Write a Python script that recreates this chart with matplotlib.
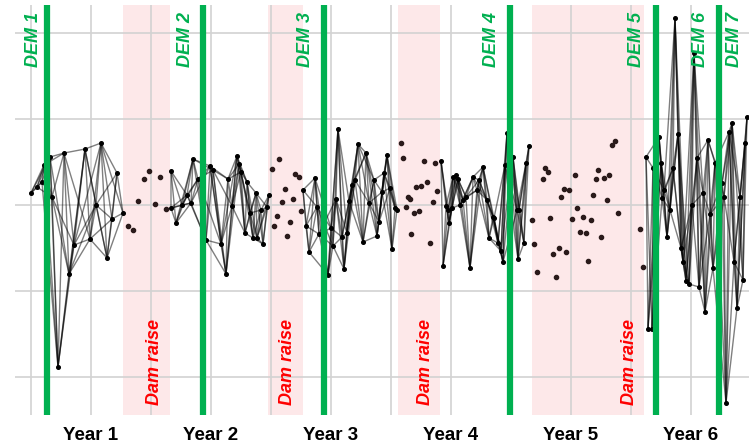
import numpy as np
import matplotlib
matplotlib.use("Agg")
import matplotlib.pyplot as plt

plt.rcParams["font.family"] = ["Liberation Sans", "DejaVu Sans"]

# x = months since start, y = relative elevation change (arbitrary units)
seg1_x = [0.0, 0.6, 1.1, 1.3, 1.9, 2.1, 2.7, 3.3, 3.8, 4.3, 5.4, 5.9, 6.5, 7.0, 7.6, 8.1, 8.6, 9.2]
seg1_y = [12, 18, 23, 40, 48, 8, -162, 52, -69, -40, 56, -34, 0, 62, -53, -14, 32, -8]

seg2_x = [14.0, 14.0, 14.5, 15.1, 15.6, 16.0, 16.2, 16.7, 17.5, 17.9, 18.2, 19.0, 19.5, 19.7,
          20.1, 20.6, 20.8, 21.0, 21.4, 21.6, 21.9, 22.2, 22.5, 22.6, 23.0, 23.2, 23.6, 23.8]
seg2_y = [34, -3, -18, 0, 10, 2, 46, 26, -35, 39, 35, -39, -69, 26,
          -1, 49, 41, 33, -28, 23, -8, -33, 12, -33, -5, -39, -2, 10]

seg3_x = [27.2, 27.5, 27.8, 28.4, 28.6, 28.8, 29.7, 30.0, 30.2, 30.5, 30.7, 31.1, 31.3, 31.6,
          31.8, 32.1, 32.4, 32.7, 33.2, 33.5, 33.8, 34.3, 34.6, 34.8, 35.1, 35.3, 35.6, 35.9,
          36.1, 36.4, 36.6]
seg3_y = [15, -21, -47, 27, -2, -29, -70, -23, -41, 6, 76, -32, -64, -28,
          4, 20, 25, 61, -37, 52, 2, 25, -31, -17, 13, 32, 50, 17,
          -44, -3, -5]

seg4_x = [41.0, 41.2, 41.5, 41.7, 41.8, 42.1, 42.2, 42.5, 42.7, 42.9, 43.2, 43.5, 43.9, 44.2,
          44.6, 44.8, 45.2, 45.6, 45.8, 46.2, 46.3, 46.7, 47.0, 47.2, 47.4, 47.6, 48.2, 48.6,
          48.7, 48.8, 49.3, 49.5, 49.8]
seg4_y = [44, -61, -1, -5, -18, -3, 28, 30, 26, 0, 5, 8, -63, 28,
          15, 25, 38, 5, -33, -12, -13, -38, -46, -57, 40, 72, 48, -5,
          -54, -5, -38, 42, 59]

seg5_x = [61.5, 61.7, 62.1, 62.2, 62.8, 63.0, 63.1, 63.3, 63.6, 63.9, 64.2, 64.4, 64.7, 65.0,
          65.2, 65.5, 65.8, 66.1, 66.3, 66.6, 66.8, 67.2, 67.4, 67.7, 67.9, 68.2, 68.4, 69.1,
          69.3, 69.5, 69.8, 70.1, 70.3, 70.6, 70.9, 71.2, 71.4, 71.6]
seg5_y = [48, -124, -124, 37, 68, 42, 7, 15, -32, -5, 37, 187, 71, -43,
          -57, -76, -79, 0, 152, 47, -82, 12, -107, 65, -9, -63, 42, 22,
          8, -198, 73, 82, -57, -103, 8, -75, 62, 88]

# scattered points surveyed during dam raises
raise_x = [9.7, 10.2, 10.7, 11.3, 11.8, 12.4, 12.9, 13.5,
           24.1, 24.8, 25.4, 25.1, 26.2, 26.4, 26.8, 27.0, 24.6, 24.3, 25.9, 25.6,
           37.0, 37.2, 39.3, 40.4, 38.5, 39.0, 39.6, 37.7, 37.9, 37.5, 40.2, 40.6, 38.3, 38.8, 38.0, 39.9,
           51.4, 51.7, 51.2, 53.3, 53.8, 53.0, 54.4, 56.7, 56.5, 57.3, 57.8, 58.4, 58.1, 56.2, 57.6,
           54.6, 50.1, 51.9, 54.1, 55.2, 56.0, 58.7, 54.9, 55.5, 57.0, 50.3, 52.8, 52.2, 53.5, 55.7,
           50.6, 52.5, 60.9, 61.2]
raise_y = [-21, -25, 4, 26, 34, 1, 28, -4,
           36, 46, 16, 3, 6, 31, 28, -6, -11, -21, -17, -31,
           62, 47, 44, 42, 18, 19, 23, 8, 6, -2, 3, 14, -8, -6, -29, -38,
           37, 33, 26, 16, 15, 8, 30, 35, 26, 27, 30, 64, 60, 10, 5,
           -3, -15, -13, -14, -12, -15, -8, -27, -28, -32, -39, -43, -49, -47, -56,
           -67, -72, -24, -62]

dem_dates = [1.6, 17.2, 29.3, 47.9, 62.5, 68.8]
dem_names = ["DEM 1", "DEM 2", "DEM 3", "DEM 4", "DEM 5", "DEM 6", "DEM 7"]
dem_label_x = [0.25, 15.5, 27.5, 46.1, 60.6, 67.0, 70.4]
raise_start = [9.2, 23.7, 36.7, 50.1]
raise_end = [13.9, 27.2, 40.9, 61.3]
raise_label_x = [12.4, 25.7, 39.5, 59.9]
year_labels = ["Year 1", "Year 2", "Year 3", "Year 4", "Year 5", "Year 6"]

fig = plt.figure(figsize=(7.49, 4.48), dpi=100)
ax = fig.add_axes([0.02, 0.0737, 0.98, 0.915])

for a, b in zip(raise_start, raise_end):
    ax.axvspan(a, b, color="#fde8e9", lw=0, zorder=0)

for v in range(0, 73, 6):
    ax.axvline(v, color="#d2d2d2", lw=1.2, zorder=1)
for h in [-172, -86, 0, 86, 172]:
    ax.axhline(h, color="#d2d2d2", lw=1.2, zorder=1)

segments = [(seg1_x, seg1_y), (seg2_x, seg2_y), (seg3_x, seg3_y), (seg4_x, seg4_y), (seg5_x, seg5_y)]
for xs, ys in segments:
    xs = np.array(xs)
    ys = np.array(ys)
    for step in (1, 2, 3, 4):
        for s in range(step):
            ax.plot(xs[s::step], ys[s::step], color="black", lw=1.0, alpha=0.5, zorder=2)
    ax.plot(xs, ys, "o", ms=2.6, color="black", zorder=3)

ax.plot(raise_x, raise_y, "o", ms=3.0, color="#2a1a1a", zorder=3)

for d in dem_dates:
    ax.axvline(d, color="#00b050", lw=4.5, zorder=4)
for name, lx in zip(dem_names, dem_label_x):
    ax.text(lx, 193, name, rotation=90, ha="center", va="top", color="#00b050",
            fontsize=13, fontweight="bold", fontstyle="italic", zorder=5)
for lx in raise_label_x:
    ax.text(lx, -200, "Dam raise", rotation=90, ha="center", va="bottom", color="#ff0000",
            fontsize=13, fontweight="bold", fontstyle="italic", zorder=5)

ax.set_xlim(-1.6, 71.8)
ax.set_ylim(-210, 200)
ax.set_xticks([6, 18, 30, 42, 54, 66])
ax.set_xticklabels(year_labels, fontsize=13.5, fontweight="bold")
ax.set_yticks([])
ax.tick_params(axis="x", length=0, pad=9)
for sp in ax.spines.values():
    sp.set_visible(False)

fig.savefig("out.png", dpi=100)
